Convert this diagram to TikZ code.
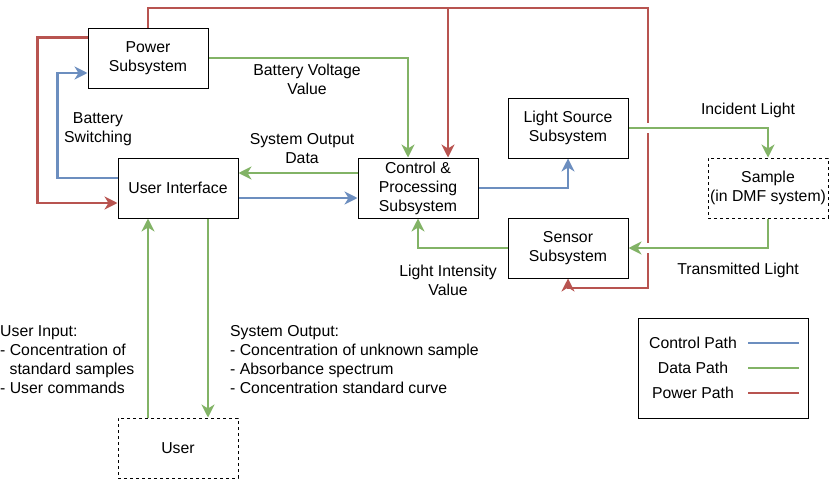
\documentclass[tikz,border=0pt]{standalone}
\usepackage{fontspec}
\setmainfont{Liberation Sans}
\usepackage{tikz}
\usetikzlibrary{arrows.meta,positioning,calc,backgrounds}
\usepackage{xcolor}
\definecolor{ctlblue}{HTML}{6C8EBF}
\definecolor{datgreen}{HTML}{82B366}
\definecolor{pwrred}{HTML}{B85450}
\tikzset{
  blockbox/.style={rectangle,draw=black,fill=white,minimum width=120pt,
    minimum height=60pt,inner sep=2pt,align=center,line width=1pt},
  extbox/.style={blockbox,dash pattern=on 3pt off 3pt},
  lbl/.style={align=center,inner sep=0pt},
  listlbl/.style={align=left,inner sep=0pt,anchor=west},
  path tip/.style={-{Stealth[length=13pt,width=13pt,inset=4pt]}},
  ctlpath/.style={path tip,line width=2.3pt,draw=ctlblue},
  datpath/.style={path tip,line width=2.3pt,draw=datgreen},
  pwrpath/.style={path tip,line width=2.3pt,draw=pwrred},
  hop/.style={preaction={draw=white,line width=10pt,-}},
}

\begin{document}
\begin{tikzpicture}[x=1pt,y=-1pt,font=\fontsize{15.8}{19}\selectfont]
  \useasboundingbox (0,0) rectangle (829,479);
  % blocks
  \node[blockbox] (pwr)  at (148,58)  {Power\\Subsystem};
  \node[blockbox] (ui)   at (178,188) {User Interface};
  \node[blockbox] (ctrl) at (418,188) {Control \&\\Processing\\Subsystem};
  \node[blockbox] (ls)   at (568,128) {Light Source\\Subsystem};
  \node[blockbox] (sen)  at (568,248) {Sensor\\Subsystem};
  \node[extbox]   (smp)  at (768,188) {Sample\\(in DMF system)};
  \node[extbox]   (usr)  at (178,448) {User};

  \coordinate (ptop) at (448,8);
  \coordinate (pbus) at (648,8);
  \coordinate (pbot) at (648,288);

  \begin{scope}[on background layer]
    % power
    \draw[pwrpath] (pwr.north) |- (pbus) -- (pbot) -| (sen.south);
    \draw[pwrpath] (ptop) -- (ptop |- ctrl.north);
    \draw[pwrpath] ([yshift=-10pt]pwr.north west) -- ++(-50,0) |- ([yshift=-15pt]ui.west);
    % control
    \draw[ctlpath] ([yshift=10pt]ui.west) -- ++(-60,0) |- ([yshift=-15pt]pwr.west);
    \draw[ctlpath] ([yshift=-10pt]ui.east) -- ([yshift=-10pt]ctrl.west);
    \draw[ctlpath] (ctrl.east) -| (ls.south);
    % data
    \draw[datpath] (pwr.east) -| ([xshift=-10pt]ctrl.north);
    \draw[datpath] ([yshift=15pt]ctrl.west) -- ([yshift=15pt]ui.east);
    \draw[datpath] (sen.west) -| (ctrl.south);
    \draw[datpath,hop] (ls.east) -| (smp.north);
    \draw[datpath,hop] (smp.south) |- (sen.east);
    \draw[datpath] ([xshift=-30pt]usr.north) -- ([xshift=-30pt]ui.south);
    \draw[datpath] ([xshift=30pt]ui.south) -- ([xshift=30pt]usr.north);
  \end{scope}

  % labels
  \node[lbl] (bvv) at (307,79)  {Battery Voltage\\Value};
  \node[lbl] (bsw) at (98,129)  {Battery\\Switching};
  \node[lbl] (sod) at (302,149) {System Output\\Data};
  \node[lbl] (inc) at (748,110) {Incident Light};
  \node[lbl] (trl) at (738,270) {Transmitted Light};
  \node[lbl] (liv) at (448,280) {Light Intensity\\Value};
  \node[listlbl] (uin) at (0,360) {User Input:\\- Concentration of\\\hspace*{9.5pt}standard samples\\- User commands};
  \node[listlbl] (sout) at (230,360) {System Output:\\- Concentration of unknown sample\\- Absorbance spectrum\\- Concentration standard curve};

  % legend
  \node[blockbox,minimum width=170pt,minimum height=100pt] (legend) at (723,368) {};
  \node[lbl] (lgctl) at (693,343) {Control Path};
  \node[lbl] (lgdat) at (693,368) {Data Path};
  \node[lbl] (lgpwr) at (693,393) {Power Path};
  \coordinate (lgl) at (748,0);
  \coordinate (lgr) at (799,0);
  \draw[ctlpath,-] (lgctl -| lgl) -- (lgctl -| lgr);
  \draw[datpath,-] (lgdat -| lgl) -- (lgdat -| lgr);
  \draw[pwrpath,-] (lgpwr -| lgl) -- (lgpwr -| lgr);
\end{tikzpicture}
\end{document}
